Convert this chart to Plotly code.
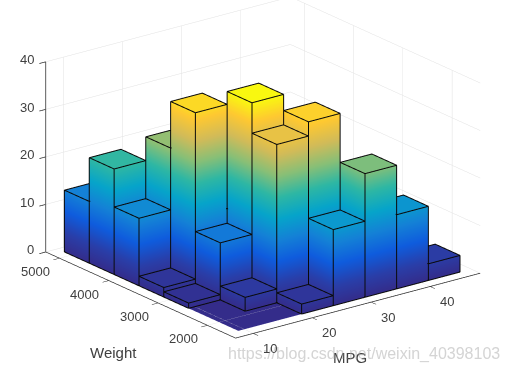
import math
import plotly.graph_objects as go

mpg_edges = [9, 14.37, 19.74, 25.11, 30.49, 35.86, 41.23, 46.6]
weight_edges = [1613, 2117, 2621, 3125, 3628, 4132, 4636, 5140]
# rows: weight bin (low to high), cols: MPG bin (low to high)
counts = [
    [0, 0, 2.1, 16, 26, 15.6, 3.5],
    [0, 2.9, 33.3, 36.3, 10, 3, 0],
    [1.1, 12, 39.7, 8, 0, 0, 0],
    [2, 37, 15, 0, 0, 0, 0],
    [14.2, 27.2, 3, 0, 0, 0, 0],
    [22.2, 3, 0, 0, 0, 0, 0],
    [13, 6, 0, 0, 0, 0, 0],
]
parula = ["#352a87", "#2a3ea8", "#0f5cdd", "#1481d6", "#06a4ca", "#2eb7a4",
          "#87bf77", "#d1bb59", "#fec832", "#f9fb0e"]
xticks = [10, 20, 30, 40]
yticks = [2000, 3000, 4000, 5000]
zticks = [0, 10, 20, 30, 40]
xlim = [7, 48.5]
ylim = [1430, 5280]
zlim = [0, 40]
aspect = dict(x=1.656, y=1.68, z=1.09)
AZ, EL = 37.4, 20.3
R = 3
SHIFT_RIGHT, SHIFT_UP = 0.043, 0.0995
LINE_LIFT = 0.012

phi, el = math.radians(AZ), math.radians(EL)
right = (math.cos(phi), -math.sin(phi), 0)
up = (math.sin(phi) * math.sin(el), math.cos(phi) * math.sin(el), math.cos(el))
view = (-math.sin(phi) * math.cos(el), -math.cos(phi) * math.cos(el), math.sin(el))
center = [-SHIFT_RIGHT * right[k] - SHIFT_UP * up[k] for k in range(3)]
eye = [center[k] + R * view[k] for k in range(3)]
# small shift of the edge lines toward the camera so they do not fight with the faces
dx = view[0] * LINE_LIFT * (xlim[1] - xlim[0]) / aspect["x"]
dy = view[1] * LINE_LIFT * (ylim[1] - ylim[0]) / aspect["y"]
dz = view[2] * LINE_LIFT * (zlim[1] - zlim[0]) / aspect["z"]

vx, vy, vz, ti, tj, tk = [], [], [], [], [], []
lx, ly, lz = [], [], []
for j, row in enumerate(counts):
    for i, h in enumerate(row):
        x0, x1 = mpg_edges[i], mpg_edges[i + 1]
        y0, y1 = weight_edges[j], weight_edges[j + 1]
        b = len(vx)
        corners = [(x0, y0), (x1, y0), (x1, y1), (x0, y1)]
        for (cx, cy) in corners:
            vx.append(cx); vy.append(cy); vz.append(0)
        for (cx, cy) in corners:
            vx.append(cx); vy.append(cy); vz.append(h)
        faces = [(4, 5, 6), (4, 6, 7)]
        if h > 0:
            for s in range(4):
                n = (s + 1) % 4
                faces += [(s, n, n + 4), (s, n + 4, s + 4)]
        for a, c, d in faces:
            ti.append(b + a); tj.append(b + c); tk.append(b + d)
        if h > 0:
            ring = corners + corners[:1]
            lx += [p[0] + dx for p in ring] + [None]
            ly += [p[1] + dy for p in ring] + [None]
            lz += [h + dz] * 5 + [None]
            lx += [p[0] + dx for p in ring] + [None]
            ly += [p[1] + dy for p in ring] + [None]
            lz += [dz] * 5 + [None]
            for (cx, cy) in corners:
                lx += [cx + dx, cx + dx, None]; ly += [cy + dy, cy + dy, None]; lz += [dz, h + dz, None]

n = len(parula) - 1
scale = [[k / n, c] for k, c in enumerate(parula)]
mesh = go.Mesh3d(x=vx, y=vy, z=vz, i=ti, j=tj, k=tk, intensity=vz, cmin=-0.5, cmax=40,
                 colorscale=scale, showscale=False, flatshading=True, hoverinfo="skip",
                 lighting=dict(ambient=1, diffuse=0, specular=0, roughness=1, fresnel=0))
edges = go.Scatter3d(x=lx, y=ly, z=lz, mode="lines", line=dict(color="#0a0a0a", width=2),
                     hoverinfo="skip", showlegend=False)

FAMILY = "Liberation Sans, Arial, sans-serif"
fnt = dict(family=FAMILY, size=13, color="#404040")
def ax(lim, ticks):
    return dict(title=dict(text=""), range=lim, tickvals=ticks, showticklabels=False,
                showbackground=False, showgrid=True, gridcolor="#e1e1e1", gridwidth=1,
                showline=True, linecolor="#262626", linewidth=1.5, ticks="outside", ticklen=8,
                tickwidth=1.5, tickcolor="#262626", zeroline=False, showspikes=False)
def label(text, px, py, size, color):
    return dict(text=text, xref="paper", yref="paper", x=px / 510, y=1 - py / 372, showarrow=False,
                xanchor="center", yanchor="middle",
                font=dict(family=FAMILY, size=size, color=color))
tick_labels = []
for t in zticks:
    tick_labels.append(dict(x=xlim[0], y=ylim[1], z=t, text=str(t), showarrow=False, font=fnt,
                            xanchor="right", yanchor="middle", xshift=-10, yshift=2))
for t in yticks:
    tick_labels.append(dict(x=xlim[0], y=t, z=0, text=str(t), showarrow=False, font=fnt,
                            xanchor="center", yanchor="middle", xshift=-24, yshift=-13.5))
for t in xticks:
    tick_labels.append(dict(x=t, y=ylim[0], z=0, text=str(t), showarrow=False, font=fnt,
                            xanchor="center", yanchor="middle", xshift=16.5, yshift=-15))
fig = go.Figure([mesh, edges])
fig.update_layout(width=510, height=372, margin=dict(l=0, r=0, t=0, b=0), paper_bgcolor="white",
                  showlegend=False,
                  scene=dict(domain=dict(x=[0, 1], y=[0, 1]),
                             xaxis=ax(xlim, xticks), yaxis=ax(ylim, yticks), zaxis=ax(zlim, zticks),
                             aspectmode="manual", aspectratio=aspect,
                             annotations=tick_labels,
                             camera=dict(eye=dict(x=eye[0], y=eye[1], z=eye[2]),
                                         center=dict(x=center[0], y=center[1], z=center[2]),
                                         up=dict(x=0, y=0, z=1),
                                         projection=dict(type="orthographic"))),
                  annotations=[label("Weight", 113, 352, 15, "#404040"),
                               label("MPG", 350, 357, 15, "#404040"),
                               label("https://blog.csdn.net/weixin_40398103", 364, 354, 16, "rgba(170,170,170,0.5)")])
fig.write_html("out.html", config=dict(displayModeBar=False), post_script="document.body.style.margin='0';")
